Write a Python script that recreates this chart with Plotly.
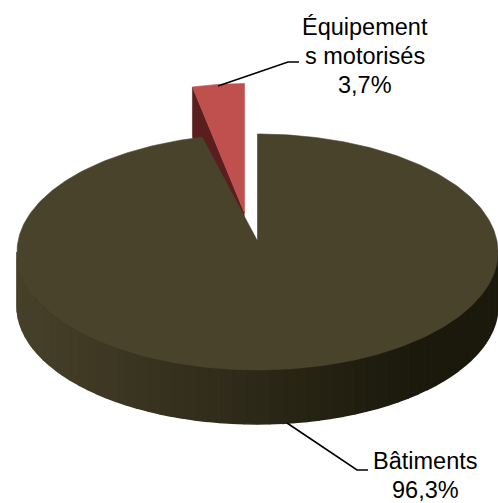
import numpy as np
import plotly.graph_objects as go

# Data
categories = ["Bâtiments", "Équipements motorisés"]
shares = [96.3, 3.7]
label_lines = [["Bâtiments", "96,3%"], ["Équipement", "s motorisés", "3,7%"]]

W, H = 498, 503
CX, CY, RX, RY, DEPTH = 257.5, 252.0, 240.5, 118.0, 54.0
APEX = (257.5, 241.0)
TIP = (244.5, 213.0)
WA, WB, WD = 226.0, 129.5, 50.0
TOP = "#4a432b"
RED, RED_D = "#c0504d", "#591f1f"

theta = np.cumsum([0] + shares) / sum(shares) * 2 * np.pi
fig = go.Figure()


def poly(x, y, color, lw=0.6):
    fig.add_trace(go.Scatter(x=list(x), y=list(y), mode="lines", fill="toself",
                             fillcolor=color, line=dict(color=color, width=lw),
                             hoverinfo="skip", showlegend=False))


def ex(t):
    return CX + RX * np.sin(t)


def ey(t):
    return CY - RY * np.cos(t)


def mix(f):
    a, b = np.array([0x4a, 0x43, 0x2c]), np.array([0x1b, 0x19, 0x0c])
    c = a + (b - a) * f
    return "rgb(%d,%d,%d)" % tuple(c)


# exploded slice: cut face
t0, t1 = theta[1], theta[2]
corner = (TIP[0] + WA * np.sin(t0), TIP[1] - WB * np.cos(t0))
poly([TIP[0], corner[0], corner[0], TIP[0]],
     [TIP[1], corner[1], corner[1] + WD, TIP[1] + WD], RED_D)

# main slice wall, shaded left to right
edges = np.linspace(np.pi / 2, 3 * np.pi / 2, 61)
for a, b in zip(edges[:-1], edges[1:]):
    ts = np.linspace(a, b, 4)
    xs = ex(ts)
    ys = ey(ts)
    f = np.clip((CX + RX - xs.mean()) / (2 * RX), 0, 1)
    f = min(1.0, (1 - f) * 1.15 + 0.05)
    poly(np.r_[xs, xs[::-1]], np.r_[ys, ys[::-1] + DEPTH], mix(f), lw=1.5)

# main slice top
ts = np.linspace(theta[0], theta[1], 400)
poly(np.r_[APEX[0], ex(ts), APEX[0]], np.r_[APEX[1], ey(ts), APEX[1]], TOP)

# exploded slice top
ts = np.linspace(t0, t1, 30)
poly(np.r_[TIP[0], TIP[0] + WA * np.sin(ts), TIP[0]],
     np.r_[TIP[1], TIP[1] - WB * np.cos(ts), TIP[1]], RED)

# leader lines
for lx, ly in [([218, 288, 299], [86, 62, 62]), ([287, 357, 368], [423, 470, 470])]:
    fig.add_trace(go.Scatter(x=lx, y=ly, mode="lines", line=dict(color="black", width=1.6),
                             hoverinfo="skip", showlegend=False))

# labels
FS = 23.5
for lines, x, ys in [(label_lines[0], 425, [461, 490]), (label_lines[1], 365, [27, 56, 85])]:
    for s, y in zip(lines, ys):
        fig.add_annotation(x=x, y=y, text=s, showarrow=False, xanchor="center", yanchor="middle",
                           font=dict(family="Liberation Sans, Arial", size=FS, color="black"))

fig.update_layout(width=W, height=H, margin=dict(l=0, r=0, t=0, b=0), autosize=False,
                  paper_bgcolor="white", plot_bgcolor="white",
                  xaxis=dict(range=[0, W], visible=False, fixedrange=True),
                  yaxis=dict(range=[H, 0], visible=False, fixedrange=True))
fig.write_html("out.html", config=dict(displayModeBar=False),
               post_script="document.body.style.margin='0';document.body.style.overflow='hidden';")
